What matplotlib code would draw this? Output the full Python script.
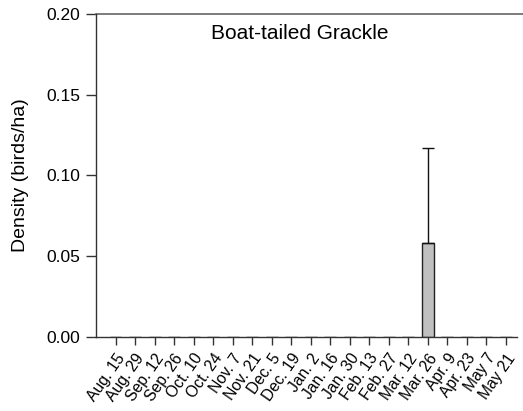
import numpy as np
import matplotlib
matplotlib.use("Agg")
import matplotlib.pyplot as plt

plt.rcParams['font.family'] = ['Liberation Sans', 'DejaVu Sans']

dates = ["Aug. 15", "Aug. 29", "Sep. 12", "Sep. 26", "Oct. 10", "Oct. 24",
         "Nov. 7", "Nov. 21", "Dec. 5", "Dec. 19", "Jan. 2", "Jan. 16",
         "Jan. 30", "Feb. 13", "Feb. 27", "Mar. 12", "Mar. 26", "Apr. 9",
         "Apr. 23", "May 7", "May 21"]
density = [0, 0, 0, 0, 0, 0, 0, 0, 0, 0, 0, 0, 0, 0, 0, 0, 0.0585, 0, 0, 0, 0]
se = [0, 0, 0, 0, 0, 0, 0, 0, 0, 0, 0, 0, 0, 0, 0, 0, 0.0587, 0, 0, 0, 0]
species = "Boat-tailed Grackle"

x = np.arange(len(dates))
density = np.array(density)
se = np.array(se)

fig = plt.figure(figsize=(5.23, 4.11), dpi=100)
ax = fig.add_axes([0.1836, 0.180, 0.805, 0.786])

ax.bar(x, density, width=0.61, color='#c0c0c0', edgecolor='#222222', linewidth=1.0, zorder=2)

# upper error bars only where there is something to show
m = se > 0
ax.errorbar(x[m], density[m], yerr=[np.zeros(m.sum()), se[m]], fmt='none',
            ecolor='#111111', elinewidth=1.0, capsize=4, capthick=1.0, zorder=3)

ax.set_xlim(-1, 20.58)
ax.set_ylim(0, 0.20)
ax.set_yticks([0.00, 0.05, 0.10, 0.15, 0.20])
ax.set_yticklabels(["0.00", "0.05", "0.10", "0.15", "0.20"])
ax.set_xticks(x)
ax.set_xticklabels(dates, rotation=55, ha='right', rotation_mode='anchor')

ax.spines['top'].set_visible(False)
ax.spines['right'].set_visible(False)
for s in ['left', 'bottom']:
    ax.spines[s].set_color('#333333')
    ax.spines[s].set_linewidth(1.0)
    ax.spines[s].set_zorder(4)
ax.axhline(0.20, xmin=0, xmax=1.014, color='#666666', linewidth=1.2, clip_on=False)

ax.tick_params(axis='y', direction='out', length=7, width=1, color='#333333', labelsize=12.5, pad=4.5)
ax.tick_params(axis='x', direction='out', length=6, width=1, color='#333333', labelsize=11.3, pad=4)

ax.set_ylabel("Density (birds/ha)", fontsize=14, labelpad=12)
ax.text(0.485, 0.94, species, transform=ax.transAxes, ha='center', va='center', fontsize=15)

fig.savefig("out.png", dpi=100)
